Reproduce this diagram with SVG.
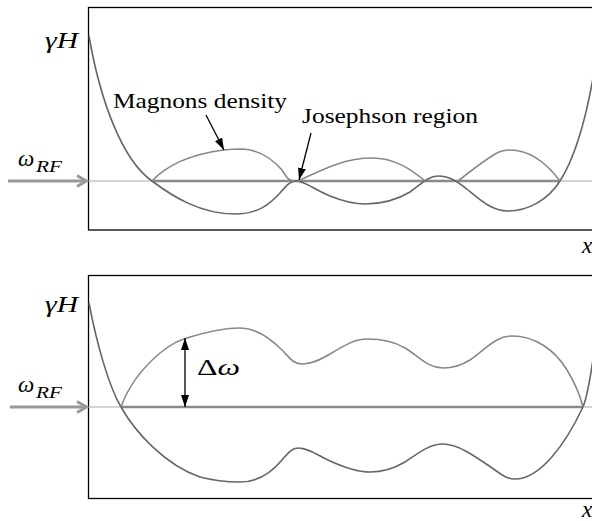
<svg xmlns="http://www.w3.org/2000/svg" width="592" height="521" viewBox="0 0 592 521">
<style>
.box{fill:none;stroke:#000;stroke-width:1.3}
.par{fill:none;stroke:#666;stroke-width:1.6}
.up{fill:none;stroke:#888;stroke-width:1.6}
.thin{stroke:#aaa;stroke-width:1.2}
.thick{stroke:#8a8a8a;stroke-width:2.6}
.rf{stroke:#999;stroke-width:3;fill:none}
.ann{stroke:#000;stroke-width:1.3;fill:none}
</style>
<defs>
<marker id="ah" viewBox="0 0 12 8" refX="12" refY="4" markerWidth="12" markerHeight="8" markerUnits="userSpaceOnUse" orient="auto-start-reverse">
<path d="M0,0 L12,4 L0,8 z" fill="#000"/>
</marker>
</defs>
<g id="panel-top">
<rect class="box" x="88.5" y="7.5" width="520" height="222.5"/>
<line class="thin" x1="88" y1="181" x2="592" y2="181"/>
<line class="thick" x1="152" y1="181" x2="560" y2="181"/>
<path class="par" d="M89,36 C100,100 122,160 152,181 C172,196 200,214 235,214 C258,214 270,204 280,193 C286,186 290,181 296,181 C305,181 315,190 330,196 C345,202 355,204 365,204 C385,204 400,198 410,192 C420,185 428,176 438,176 C450,176 458,182 468,190 C480,200 492,211 508,211 C528,211 548,200 560,181 C572,162 586,125 596,60"/>
<path class="up" d="M152,181 C165,167 185,155 224,150 C232,149 236,149 242,149 C262,150 275,162 282,170 C286,176 288,181 294,181"/>
<path class="up" d="M298,181 C315,174 340,158 372,158 C395,158 412,170 425,181"/>
<path class="up" d="M458,181 C472,170 485,160 495,154 C500,151 503,150 510,150 C532,150 548,165 560,181"/>
</g>
<g id="panel-bottom">
<rect class="box" x="88.5" y="275.5" width="520" height="223"/>
<line class="thin" x1="88" y1="407" x2="592" y2="407"/>
<line class="thick" x1="121" y1="407" x2="583" y2="407"/>
<path class="par" d="M89,303 C96,340 108,385 121,407 C135,432 165,465 200,477 C215,481 228,482 240,482 C258,482 272,472 282,460 C288,453 292,448 298,448 C308,448 315,454 328,460 C345,468 358,472 370,472 C385,472 395,468 405,462 C420,452 430,444 443,444 C460,444 480,460 495,470 C502,475 507,479 515,479 C540,479 565,445 583,407 C588,395 591,375 595,345"/>
<path class="up" d="M121,407 C127,390 140,370 160,353 C172,343 180,340 190,337 C210,331 225,328 240,328 C258,328 272,340 282,350 C290,358 293,364 302,364 C312,364 320,360 330,354 C345,345 355,339 367,339 C385,339 395,342 405,348 C420,357 428,368 443,368 C455,368 462,365 470,360 C485,350 495,336 512,336 C535,336 555,350 567,370 C575,383 580,395 583,407"/>
</g>
<g id="connectors">
<line class="rf" x1="8" y1="181" x2="86" y2="181"/>
<polyline class="rf" points="77,175.5 86.5,181 77,186.5" stroke-linejoin="round"/>
<line class="rf" x1="10" y1="407" x2="86" y2="407"/>
<polyline class="rf" points="77,401.5 86.5,407 77,412.5" stroke-linejoin="round"/>
<line class="ann" x1="206" y1="115" x2="224" y2="150" marker-end="url(#ah)"/>
<line class="ann" x1="311" y1="133" x2="299" y2="180" marker-end="url(#ah)"/>
<line class="ann" x1="185" y1="338" x2="185" y2="407" marker-start="url(#ah)" marker-end="url(#ah)"/>
</g>
<g id="labels" fill="#000">
<text x="45" y="48" font-family="Liberation Serif" font-size="23" font-style="italic" textLength="33" lengthAdjust="spacingAndGlyphs">γH</text>
<text x="18" y="166" font-family="Liberation Serif" font-size="23" font-style="italic">ω</text>
<text x="36" y="172" font-family="Liberation Serif" font-size="17" font-style="italic" textLength="26" lengthAdjust="spacingAndGlyphs">RF</text>
<text x="113" y="108" font-family="Liberation Serif" font-size="21" textLength="174" lengthAdjust="spacingAndGlyphs">Magnons density</text>
<text x="302" y="123" font-family="Liberation Serif" font-size="21" textLength="176" lengthAdjust="spacingAndGlyphs">Josephson region</text>
<text x="582" y="253" font-family="Liberation Serif" font-size="23" font-style="italic">x</text>
<text x="45" y="312" font-family="Liberation Serif" font-size="23" font-style="italic" textLength="33" lengthAdjust="spacingAndGlyphs">γH</text>
<text x="18" y="392" font-family="Liberation Serif" font-size="23" font-style="italic">ω</text>
<text x="36" y="398" font-family="Liberation Serif" font-size="17" font-style="italic" textLength="26" lengthAdjust="spacingAndGlyphs">RF</text>
<text x="197" y="375" font-family="Liberation Serif" font-size="23" textLength="43" lengthAdjust="spacingAndGlyphs">Δ<tspan font-style="italic">ω</tspan></text>
<text x="582" y="517" font-family="Liberation Serif" font-size="23" font-style="italic">x</text>
</g>
</svg>
